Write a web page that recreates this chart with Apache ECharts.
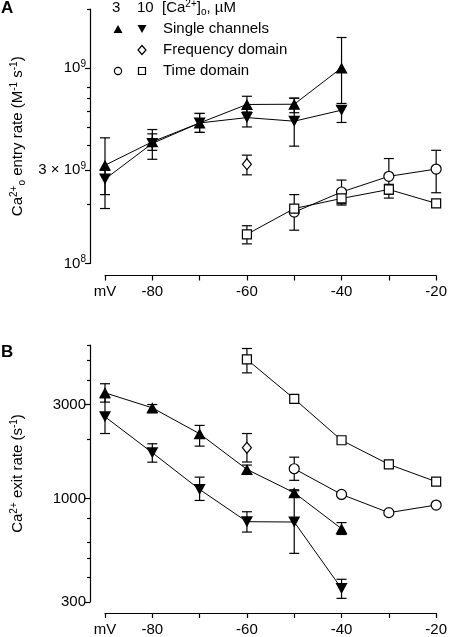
<!DOCTYPE html>
<html><head><meta charset="utf-8">
<script src="https://cdn.jsdelivr.net/npm/echarts@6/dist/echarts.min.js"></script>
<style>html,body{margin:0;padding:0;background:#fff}#c{width:450px;height:637px}</style>
</head><body><div id="c"></div>
<script>
// ---------- data ----------
const xTickValues = [-90,-80,-70,-60,-50,-40,-30,-20];
const xTickLabels = ['mV','-80','','-60','','-40','','-20'];

// Panel A: Ca2+ entry rate (M-1 s-1)
const entryTickValues = [1e8, 3e8, 1e9];
const entryTickLabels = ['10{sup|8}', '3 × 10{sup|9}', '10{sup|9}'];
const entryMinorTicks = [2e8, 4e8, 5e8, 6e8, 7e8, 8e8, 2e9];

const entrySingle3V  = [-90, -80, -70, -60, -50, -40];
const entrySingle3   = [3.18e8, 4.19e8, 5.23e8, 6.50e8, 6.52e8, 1.0e9];
const entrySingle3Lo = [2.25e8, 3.79e8, 4.68e8, 5.95e8, 5.90e8, 6.58e8];
const entrySingle3Hi = [4.39e8, 4.84e8, 5.85e8, 7.16e8, 7.00e8, 1.43e9];

const entrySingle10V  = [-90, -80, -70, -60, -50, -40];
const entrySingle10   = [2.70e8, 4.11e8, 5.23e8, 5.57e8, 5.34e8, 6.08e8];
const entrySingle10Lo = [1.91e8, 3.41e8, 4.68e8, 4.99e8, 3.98e8, 5.26e8];
const entrySingle10Hi = [3.00e8, 4.60e8, 5.85e8, 6.20e8, 7.00e8, 6.37e8];

const entryFreq10V  = [-60];
const entryFreq10   = [3.22e8];
const entryFreq10Lo = [2.84e8];
const entryFreq10Hi = [3.58e8];

const entryTime3V  = [-50, -40, -30, -20];
const entryTime3   = [1.83e8, 2.32e8, 2.79e8, 3.04e8];
const entryTime3Lo = [1.48e8, 2.02e8, 2.26e8, 2.30e8];
const entryTime3Hi = [2.25e8, 2.67e8, 3.44e8, 3.79e8];

const entryTime10V  = [-60, -50, -40, -30, -20];
const entryTime10   = [1.41e8, 1.91e8, 2.15e8, 2.39e8, 2.03e8];
const entryTime10Lo = [1.26e8, null, 1.99e8, 2.16e8, null];
const entryTime10Hi = [1.56e8, null, 2.32e8, 2.54e8, null];

// Panel B: Ca2+ exit rate (s-1)
const exitTickValues = [300, 1000, 3000];
const exitTickLabels = ['300', '1000', '3000'];
const exitMinorTicks = [400, 500, 600, 800, 2000, 4000, 5000, 6000];

const exitSingle3V  = [-90, -80, -70, -60, -50, -40];
const exitSingle3   = [3436, 2884, 2133, 1407, 1072, 705];
const exitSingle3Lo = [3083, 2722, 1846, 1327, 1030, 659];
const exitSingle3Hi = [3820, 2998, 2350, 1480, 1110, 757];

const exitSingle10V  = [-90, -80, -70, -60, -50, -40];
const exitSingle10   = [2600, 1710, 1114, 765, 762, 351];
const exitSingle10Lo = [2138, 1531, 980, 678, 529, 313];
const exitSingle10Hi = [3245, 1897, 1286, 859, 1097, 391];

const exitFreq10V  = [-60];
const exitFreq10   = [1811];
const exitFreq10Lo = [1534];
const exitFreq10Hi = [2138];

const exitTime3V  = [-50, -40, -30, -20];
const exitTime3   = [1418, 1051, 850, 929];
const exitTime3Lo = [1239, null, null, null];
const exitTime3Hi = [1623, null, null, null];

const exitTime10V  = [-60, -50, -40, -30, -20];
const exitTime10   = [5070, 3203, 1977, 1492, 1219];
const exitTime10Lo = [4336, null, null, null, null];
const exitTime10Hi = [5760, null, null, null, null];

// ---------- styling / builders ----------
const FF = 'Liberation Sans, Arial, Helvetica, sans-serif';
const BLACK = '#000';
const rich = {
  sup: {fontSize: 10, verticalAlign: 'top', fontFamily: FF, color: BLACK, lineHeight: 18},
  sub: {fontSize: 10, verticalAlign: 'bottom', fontFamily: FF, color: BLACK, lineHeight: 18}
};

function pairs(xs, ys) { return xs.map((x, i) => [x, ys[i]]); }
function errs(xs, lo, hi) {
  const out = [];
  xs.forEach((x, i) => { if (lo[i] != null && hi[i] != null) out.push([x, lo[i], hi[i]]); });
  return out;
}
function labelFor(values, labels) {
  return function (v) {
    let best = 0, bd = Infinity;
    values.forEach((t, i) => { const d = Math.abs(Math.log(v / t)); if (d < bd) { bd = d; best = i; } });
    return bd < 0.01 ? labels[best] : '';
  };
}

function xAxisFor(gi, offset) {
  return {
    type: 'value', gridIndex: gi, min: -90, max: -20, interval: 10, offset: offset,
    axisLine: {show: true, onZero: false, lineStyle: {color: BLACK, width: 1.2}},
    axisTick: {show: true, length: 5, lineStyle: {color: BLACK, width: 1.2}},
    axisLabel: {color: BLACK, fontSize: 15, fontFamily: FF, margin: 9,
      formatter: v => xTickLabels[xTickValues.indexOf(Math.round(v))] || ''},
    splitLine: {show: false}
  };
}
function yAxesFor(gi, min, max, tickVals, tickLabels, minor, name, nameGap) {
  return [{
    type: 'log', logBase: 10, gridIndex: gi, min: min, max: max, offset: 15, position: 'left',
    axisLine: {show: true, lineStyle: {color: BLACK, width: 1.2}},
    axisTick: {show: true, length: 5, customValues: tickVals, lineStyle: {color: BLACK, width: 1.2}},
    axisLabel: {show: true, customValues: tickVals, color: BLACK, fontSize: 15, fontFamily: FF, margin: 4,
      formatter: labelFor(tickVals, tickLabels), rich: rich},
    splitLine: {show: false},
    name: name, nameLocation: 'middle', nameRotate: 90, nameGap: nameGap,
    nameTextStyle: {fontSize: 15, fontFamily: FF, color: BLACK, rich: rich}
  }, {
    type: 'log', logBase: 10, gridIndex: gi, min: min, max: max, offset: 15, position: 'left',
    axisLine: {show: false},
    axisTick: {show: true, length: 3, customValues: minor, lineStyle: {color: BLACK, width: 1.2}},
    axisLabel: {show: false},
    splitLine: {show: false}
  }];
}

const filled = {color: BLACK, borderColor: BLACK, borderWidth: 0};
const open = {color: '#fff', borderColor: BLACK, borderWidth: 1.2};

function lineSeries(axisIdx, yIdx, data, symbol, size, rotate, style) {
  return {
    type: 'line', xAxisIndex: axisIdx, yAxisIndex: yIdx, data: data,
    symbol: symbol, symbolSize: size, symbolRotate: rotate, showAllSymbol: true,
    itemStyle: style, lineStyle: {color: BLACK, width: 1}, clip: false, z: 3,
    emphasis: {disabled: true}
  };
}
function errSeries(axisIdx, yIdx, data) {
  return {
    type: 'custom', xAxisIndex: axisIdx, yAxisIndex: yIdx, data: data, clip: false, z: 2,
    encode: {x: 0, y: [1, 2]},
    renderItem: function (params, api) {
      const x = api.value(0);
      const a = api.coord([x, api.value(1)]);
      const b = api.coord([x, api.value(2)]);
      const w = 5, st = {stroke: BLACK, lineWidth: 1.2};
      return {type: 'group', children: [
        {type: 'line', shape: {x1: a[0], y1: a[1], x2: b[0], y2: b[1]}, style: st},
        {type: 'line', shape: {x1: a[0] - w, y1: a[1], x2: a[0] + w, y2: a[1]}, style: st},
        {type: 'line', shape: {x1: b[0] - w, y1: b[1], x2: b[0] + w, y2: b[1]}, style: st}
      ]};
    }
  };
}

const entryErr = [].concat(
  errs(entrySingle3V, entrySingle3Lo, entrySingle3Hi),
  errs(entrySingle10V, entrySingle10Lo, entrySingle10Hi),
  errs(entryFreq10V, entryFreq10Lo, entryFreq10Hi),
  errs(entryTime3V, entryTime3Lo, entryTime3Hi),
  errs(entryTime10V, entryTime10Lo, entryTime10Hi));
const exitErr = [].concat(
  errs(exitSingle3V, exitSingle3Lo, exitSingle3Hi),
  errs(exitSingle10V, exitSingle10Lo, exitSingle10Hi),
  errs(exitFreq10V, exitFreq10Lo, exitFreq10Hi),
  errs(exitTime3V, exitTime3Lo, exitTime3Hi),
  errs(exitTime10V, exitTime10Lo, exitTime10Hi));

const TRI = [12, 11], SQ = 9, CIR = 10, DIA = [9, 11];

function panelSeries(xi, yi, s3V, s3, s10V, s10, fV, f, t3V, t3, t10V, t10, err) {
  return [
    errSeries(xi, yi, err),
    lineSeries(xi, yi, pairs(s3V, s3), 'triangle', TRI, 0, filled),
    lineSeries(xi, yi, pairs(s10V, s10), 'triangle', TRI, 180, filled),
    lineSeries(xi, yi, pairs(fV, f), 'diamond', DIA, 0, open),
    lineSeries(xi, yi, pairs(t3V, t3), 'circle', CIR, 0, open),
    lineSeries(xi, yi, pairs(t10V, t10), 'rect', SQ, 0, open)
  ];
}

// legend graphics
function tri(cx, cy, down) {
  const w = 4.5, h = 4;
  const pts = down ? [[cx - w, cy - h], [cx + w, cy - h], [cx, cy + h]] : [[cx - w, cy + h], [cx + w, cy + h], [cx, cy - h]];
  return {type: 'polygon', shape: {points: pts}, style: {fill: BLACK}};
}
const legendText = (x, y, text) => ({type: 'text', x: x, y: y,
  style: {text: text, fontSize: 15, fontFamily: FF, fill: BLACK, verticalAlign: 'middle', rich: rich}});

const graphic = [
  {type: 'text', x: 1, y: 8, style: {text: 'A', fontSize: 17, fontWeight: 'bold', fontFamily: FF, fill: BLACK, verticalAlign: 'middle'}},
  {type: 'text', x: 1, y: 352, style: {text: 'B', fontSize: 17, fontWeight: 'bold', fontFamily: FF, fill: BLACK, verticalAlign: 'middle'}},
  legendText(112, 8, '3'),
  legendText(137, 8, '10'),
  legendText(162, 8, '[Ca{sup|2+}]{sub|o}, µM'),
  tri(118, 29, false),
  tri(142, 29, true),
  legendText(163, 29, 'Single channels'),
  {type: 'polygon', shape: {points: [[142, 45.5], [146, 50], [142, 54.5], [138, 50]]}, style: {fill: '#fff', stroke: BLACK, lineWidth: 1.2}},
  legendText(163, 50, 'Frequency domain'),
  {type: 'circle', shape: {cx: 118, cy: 71, r: 3.6}, style: {fill: '#fff', stroke: BLACK, lineWidth: 1.2}},
  {type: 'rect', shape: {x: 138.5, y: 67.5, width: 7, height: 7}, style: {fill: '#fff', stroke: BLACK, lineWidth: 1.2}},
  legendText(163, 71, 'Time domain')
];

const option = {
  animation: false,
  backgroundColor: '#fff',
  grid: [
    {left: 105, right: 11, top: 9, height: 254.5},
    {left: 105, right: 11, top: 345, height: 258.5}
  ],
  xAxis: [xAxisFor(0, 12), xAxisFor(1, 11)],
  yAxis: [].concat(
    yAxesFor(0, 1e8, 2e9, entryTickValues, entryTickLabels, entryMinorTicks,
      'Ca{sup|2+}{sub|o} entry rate (M{sup|-1} s{sup|-1})', 63),
    yAxesFor(1, 300, 6000, exitTickValues, exitTickLabels, exitMinorTicks,
      'Ca{sup|2+} exit rate (s{sup|-1})', 63)
  ),
  series: [].concat(
    panelSeries(0, 0, entrySingle3V, entrySingle3, entrySingle10V, entrySingle10, entryFreq10V, entryFreq10,
      entryTime3V, entryTime3, entryTime10V, entryTime10, entryErr),
    panelSeries(1, 2, exitSingle3V, exitSingle3, exitSingle10V, exitSingle10, exitFreq10V, exitFreq10,
      exitTime3V, exitTime3, exitTime10V, exitTime10, exitErr)
  ),
  graphic: graphic
};

const chart = echarts.init(document.getElementById('c'), null, {renderer: 'canvas'});
chart.setOption(option);
</script>
</body></html>
